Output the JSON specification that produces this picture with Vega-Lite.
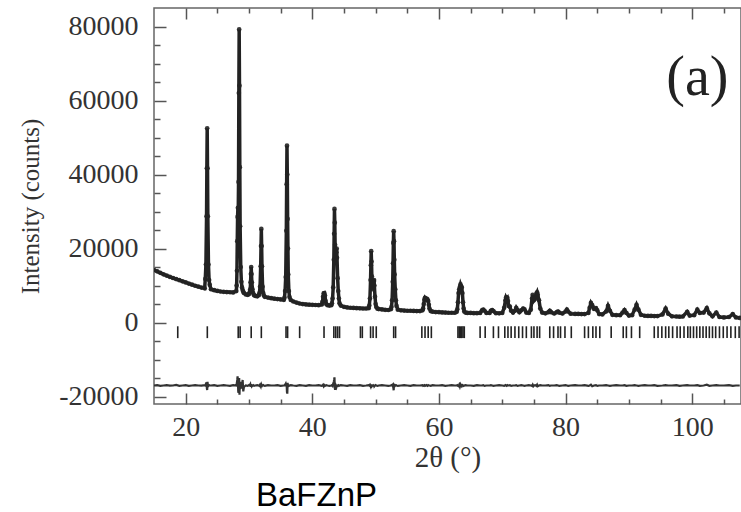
{
  "$schema": "https://vega.github.io/schema/vega-lite/v6.json",
  "width": 587,
  "height": 396,
  "autosize": "none",
  "padding": {"left": 154, "top": 8, "right": 0, "bottom": 108},
  "background": "white",
  "config": {
    "view": {"stroke": "#666", "strokeWidth": 1.5},
    "axis": {"domain": false, "grid": false, "labelFont": "Liberation Serif", "labelFontSize": 28, "labelColor": "#333", "tickColor": "#555", "tickWidth": 1.5, "titleFont": "Liberation Serif", "titleFontWeight": "normal", "titleColor": "#333"}
  },
  "title": {"text": "BaFZnP", "orient": "bottom", "anchor": "start", "frame": "group", "dx": 102, "offset": 8, "font": "Liberation Sans", "fontSize": 33, "fontWeight": "normal", "color": "#000"},
  "datasets": {
    "xrd": [
      {"t":15.0,"o":14200,"d":-17000},{"t":15.5,"o":13850,"d":-16900},{"t":16.0,"o":13450,"d":-17100},{"t":16.5,"o":13050,"d":-17000},
      {"t":17.0,"o":12700,"d":-16900},{"t":17.5,"o":12350,"d":-17050},{"t":18.0,"o":12050,"d":-17000},{"t":18.5,"o":11750,"d":-16850},
      {"t":19.0,"o":11450,"d":-17100},{"t":19.5,"o":11150,"d":-17000},{"t":20.0,"o":10850,"d":-16900},{"t":20.5,"o":10550,"d":-17100},
      {"t":21.0,"o":10250,"d":-17000},{"t":21.5,"o":9950,"d":-16900},{"t":22.0,"o":9700,"d":-17000},{"t":22.5,"o":9450,"d":-17050},
      {"t":23.0,"o":9250,"d":-16900},{"t":23.1,"o":11800,"d":-17000},{"t":23.2,"o":15700,"d":-16600},{"t":23.3,"o":28700,"d":-16200},
      {"t":23.35,"o":41700,"d":-17800},{"t":23.4,"o":52500,"d":-18200},{"t":23.45,"o":41700,"d":-16000},{"t":23.5,"o":28700,"d":-17300},
      {"t":23.6,"o":15700,"d":-17100},{"t":23.7,"o":11500,"d":-16900},{"t":23.8,"o":10200,"d":-17000},{"t":24.0,"o":9000,"d":-17000},
      {"t":24.5,"o":8750,"d":-16900},{"t":25.0,"o":8550,"d":-17100},{"t":25.5,"o":8400,"d":-17000},{"t":26.0,"o":8300,"d":-16900},
      {"t":26.5,"o":8250,"d":-17000},{"t":27.0,"o":8200,"d":-17100},{"t":27.5,"o":8150,"d":-16900},{"t":28.0,"o":8500,"d":-17000},
      {"t":28.05,"o":10000,"d":-16700},{"t":28.1,"o":14000,"d":-16200},{"t":28.15,"o":22000,"d":-15500},{"t":28.2,"o":28500,"d":-14500},
      {"t":28.25,"o":31000,"d":-15800},{"t":28.3,"o":29000,"d":-18500},{"t":28.35,"o":38000,"d":-19000},{"t":28.4,"o":62000,"d":-17500},
      {"t":28.45,"o":79200,"d":-15000},{"t":28.5,"o":64000,"d":-19500},{"t":28.55,"o":42000,"d":-16500},{"t":28.6,"o":26000,"d":-18000},
      {"t":28.7,"o":15000,"d":-16000},{"t":28.8,"o":11000,"d":-17800},{"t":28.9,"o":9500,"d":-16900},{"t":29.0,"o":8800,"d":-15500},
      {"t":29.1,"o":8300,"d":-18600},{"t":29.2,"o":8000,"d":-17400},{"t":29.5,"o":7600,"d":-17000},{"t":29.8,"o":7500,"d":-17100},
      {"t":30.0,"o":7700,"d":-16900},{"t":30.1,"o":8200,"d":-17000},{"t":30.2,"o":9000,"d":-16700},{"t":30.25,"o":10900,"d":-17300},
      {"t":30.3,"o":13100,"d":-16600},{"t":30.35,"o":15000,"d":-17400},{"t":30.4,"o":13100,"d":-16800},{"t":30.45,"o":10900,"d":-17200},
      {"t":30.55,"o":9000,"d":-17000},{"t":30.65,"o":8000,"d":-16900},{"t":30.8,"o":7400,"d":-17100},{"t":31.0,"o":7200,"d":-17000},
      {"t":31.3,"o":7100,"d":-16900},{"t":31.55,"o":7400,"d":-17000},{"t":31.65,"o":8000,"d":-17100},{"t":31.75,"o":9700,"d":-16800},
      {"t":31.85,"o":15200,"d":-17200},{"t":31.9,"o":20700,"d":-16700},{"t":31.95,"o":25300,"d":-17500},{"t":32.0,"o":20700,"d":-16900},
      {"t":32.05,"o":15200,"d":-17100},{"t":32.15,"o":9700,"d":-17000},{"t":32.25,"o":8000,"d":-16900},{"t":32.35,"o":7300,"d":-17000},
      {"t":32.5,"o":6950,"d":-17100},{"t":33.0,"o":6750,"d":-16900},{"t":33.5,"o":6600,"d":-17000},{"t":34.0,"o":6450,"d":-17000},
      {"t":34.5,"o":6350,"d":-16900},{"t":35.0,"o":6250,"d":-17100},{"t":35.5,"o":6150,"d":-17000},{"t":35.6,"o":6700,"d":-17000},
      {"t":35.7,"o":8500,"d":-16800},{"t":35.8,"o":12300,"d":-16500},{"t":35.9,"o":24800,"d":-17200},{"t":35.95,"o":37400,"d":-16800},
      {"t":36.0,"o":47800,"d":-18800},{"t":36.05,"o":40000,"d":-19200},{"t":36.1,"o":28000,"d":-16300},{"t":36.15,"o":20000,"d":-17400},
      {"t":36.2,"o":13000,"d":-16900},{"t":36.3,"o":8500,"d":-17100},{"t":36.4,"o":6900,"d":-17000},{"t":36.6,"o":6100,"d":-16900},
      {"t":37.0,"o":5700,"d":-17000},{"t":37.5,"o":5400,"d":-17100},{"t":38.0,"o":5150,"d":-16900},{"t":38.5,"o":5000,"d":-17000},
      {"t":39.0,"o":4900,"d":-17100},{"t":39.5,"o":4850,"d":-16900},{"t":40.0,"o":4800,"d":-17000},{"t":40.5,"o":4750,"d":-17000},
      {"t":41.0,"o":4700,"d":-16900},{"t":41.5,"o":4900,"d":-17100},{"t":41.6,"o":5600,"d":-17000},{"t":41.7,"o":7000,"d":-16800},
      {"t":41.8,"o":7900,"d":-17200},{"t":41.9,"o":8000,"d":-16900},{"t":42.0,"o":7300,"d":-17100},{"t":42.1,"o":5800,"d":-17000},
      {"t":42.2,"o":5000,"d":-16900},{"t":42.4,"o":4700,"d":-17000},{"t":42.7,"o":4600,"d":-17100},{"t":43.0,"o":4700,"d":-17000},
      {"t":43.1,"o":5200,"d":-16900},{"t":43.2,"o":6500,"d":-17100},{"t":43.3,"o":9500,"d":-16500},{"t":43.4,"o":17000,"d":-16000},
      {"t":43.45,"o":24000,"d":-15500},{"t":43.5,"o":30700,"d":-14800},{"t":43.55,"o":27000,"d":-17500},{"t":43.6,"o":21000,"d":-18200},
      {"t":43.7,"o":17000,"d":-16900},{"t":43.8,"o":19000,"d":-17300},{"t":43.85,"o":20000,"d":-16800},{"t":43.9,"o":17500,"d":-17200},
      {"t":44.0,"o":12000,"d":-17000},{"t":44.1,"o":8500,"d":-16900},{"t":44.2,"o":6500,"d":-17100},{"t":44.3,"o":5200,"d":-17000},
      {"t":44.5,"o":4600,"d":-16900},{"t":45.0,"o":4250,"d":-17000},{"t":45.5,"o":4100,"d":-17100},{"t":46.0,"o":4000,"d":-16900},
      {"t":46.5,"o":3950,"d":-17000},{"t":47.0,"o":3900,"d":-17000},{"t":47.5,"o":3850,"d":-16900},{"t":48.0,"o":3800,"d":-17100},
      {"t":48.5,"o":3800,"d":-17000},{"t":48.9,"o":3900,"d":-16900},{"t":49.0,"o":4600,"d":-17000},{"t":49.1,"o":6500,"d":-16800},
      {"t":49.2,"o":11500,"d":-17200},{"t":49.25,"o":15500,"d":-16700},{"t":49.3,"o":19300,"d":-17600},{"t":49.35,"o":16500,"d":-16900},
      {"t":49.4,"o":12500,"d":-17200},{"t":49.5,"o":9000,"d":-17000},{"t":49.6,"o":9500,"d":-16900},{"t":49.7,"o":11200,"d":-17100},
      {"t":49.75,"o":11500,"d":-16800},{"t":49.8,"o":10000,"d":-17200},{"t":49.9,"o":7000,"d":-17000},{"t":50.0,"o":5000,"d":-16900},
      {"t":50.1,"o":4200,"d":-17000},{"t":50.3,"o":3750,"d":-17100},{"t":50.5,"o":3650,"d":-17000},{"t":51.0,"o":3550,"d":-16900},
      {"t":51.5,"o":3450,"d":-17000},{"t":52.0,"o":3400,"d":-17100},{"t":52.4,"o":3600,"d":-17000},{"t":52.5,"o":4200,"d":-16900},
      {"t":52.6,"o":6000,"d":-17000},{"t":52.7,"o":11000,"d":-16800},{"t":52.75,"o":16000,"d":-17300},{"t":52.8,"o":21500,"d":-17600},
      {"t":52.85,"o":24700,"d":-18300},{"t":52.9,"o":22000,"d":-16800},{"t":52.95,"o":17000,"d":-16900},{"t":53.0,"o":13000,"d":-17200},
      {"t":53.1,"o":9000,"d":-17000},{"t":53.2,"o":6000,"d":-16900},{"t":53.3,"o":4500,"d":-17000},{"t":53.5,"o":3500,"d":-17100},
      {"t":54.0,"o":3300,"d":-17000},{"t":54.5,"o":3250,"d":-16900},{"t":55.0,"o":3200,"d":-17000},{"t":55.5,"o":3200,"d":-17100},
      {"t":56.0,"o":3150,"d":-16900},{"t":56.5,"o":3100,"d":-17000},{"t":57.0,"o":3100,"d":-17000},{"t":57.4,"o":3300,"d":-16900},
      {"t":57.5,"o":3800,"d":-17100},{"t":57.6,"o":5000,"d":-17000},{"t":57.7,"o":6200,"d":-16900},{"t":57.8,"o":6700,"d":-17100},
      {"t":57.9,"o":6500,"d":-17000},{"t":58.0,"o":6300,"d":-16900},{"t":58.1,"o":6400,"d":-17000},{"t":58.2,"o":6200,"d":-17100},
      {"t":58.3,"o":5800,"d":-16900},{"t":58.4,"o":4800,"d":-17000},{"t":58.5,"o":3800,"d":-17000},{"t":58.7,"o":3100,"d":-17100},
      {"t":59.0,"o":2950,"d":-16900},{"t":59.5,"o":2850,"d":-17000},{"t":60.0,"o":2800,"d":-17000},{"t":60.5,"o":2750,"d":-16900},
      {"t":61.0,"o":2700,"d":-17100},{"t":61.5,"o":2650,"d":-17000},{"t":62.0,"o":2650,"d":-16900},{"t":62.5,"o":2650,"d":-17000},
      {"t":62.8,"o":2900,"d":-17000},{"t":62.9,"o":3600,"d":-16900},{"t":63.0,"o":5500,"d":-17100},{"t":63.1,"o":8000,"d":-17200},
      {"t":63.2,"o":9000,"d":-16800},{"t":63.3,"o":9600,"d":-17300},{"t":63.4,"o":10300,"d":-16700},{"t":63.5,"o":9800,"d":-17000},
      {"t":63.6,"o":9500,"d":-17200},{"t":63.7,"o":8000,"d":-16900},{"t":63.8,"o":5500,"d":-17000},{"t":63.9,"o":3800,"d":-17100},
      {"t":64.0,"o":3000,"d":-17000},{"t":64.2,"o":2700,"d":-16900},{"t":64.5,"o":2600,"d":-17000},{"t":65.0,"o":2600,"d":-17000},
      {"t":65.5,"o":2550,"d":-17100},{"t":66.0,"o":2550,"d":-16900},{"t":66.5,"o":2600,"d":-17000},{"t":66.8,"o":3300,"d":-17000},
      {"t":67.0,"o":3500,"d":-16900},{"t":67.2,"o":3200,"d":-17100},{"t":67.5,"o":2600,"d":-17000},{"t":68.0,"o":2600,"d":-17000},
      {"t":68.2,"o":3200,"d":-16900},{"t":68.4,"o":3400,"d":-17000},{"t":68.6,"o":3100,"d":-17100},{"t":69.0,"o":2550,"d":-17000},
      {"t":69.5,"o":2500,"d":-16900},{"t":70.0,"o":2600,"d":-17000},{"t":70.3,"o":4000,"d":-17100},{"t":70.5,"o":6000,"d":-16900},
      {"t":70.6,"o":6800,"d":-17000},{"t":70.7,"o":6500,"d":-17100},{"t":70.8,"o":6700,"d":-16900},{"t":70.9,"o":5800,"d":-17000},
      {"t":71.0,"o":4500,"d":-17000},{"t":71.2,"o":4300,"d":-16900},{"t":71.4,"o":3200,"d":-17100},{"t":71.7,"o":2700,"d":-17000},
      {"t":72.0,"o":3200,"d":-17000},{"t":72.2,"o":4000,"d":-16900},{"t":72.4,"o":3400,"d":-17100},{"t":72.7,"o":2800,"d":-17000},
      {"t":73.0,"o":3300,"d":-16900},{"t":73.3,"o":3800,"d":-17000},{"t":73.5,"o":3600,"d":-17100},{"t":73.8,"o":2700,"d":-17000},
      {"t":74.2,"o":2600,"d":-16900},{"t":74.5,"o":3500,"d":-17000},{"t":74.7,"o":6500,"d":-17100},{"t":74.8,"o":7500,"d":-16800},
      {"t":74.9,"o":6800,"d":-17200},{"t":75.0,"o":6000,"d":-17000},{"t":75.2,"o":6500,"d":-16900},{"t":75.4,"o":7800,"d":-17100},
      {"t":75.5,"o":8200,"d":-16800},{"t":75.6,"o":7500,"d":-17200},{"t":75.8,"o":6000,"d":-17000},{"t":76.0,"o":3800,"d":-16900},
      {"t":76.3,"o":2700,"d":-17000},{"t":76.8,"o":2500,"d":-17000},{"t":77.3,"o":2800,"d":-16900},{"t":77.5,"o":3200,"d":-17100},
      {"t":77.7,"o":2800,"d":-17000},{"t":78.2,"o":2450,"d":-17000},{"t":78.6,"o":2800,"d":-16900},{"t":78.8,"o":3000,"d":-17000},
      {"t":79.0,"o":2700,"d":-17100},{"t":79.5,"o":2450,"d":-17000},{"t":80.0,"o":3000,"d":-16900},{"t":80.2,"o":3500,"d":-17000},
      {"t":80.4,"o":3000,"d":-17100},{"t":80.8,"o":2400,"d":-17000},{"t":81.5,"o":2350,"d":-16900},{"t":82.0,"o":2350,"d":-17000},
      {"t":82.5,"o":2300,"d":-17000},{"t":83.0,"o":2300,"d":-16900},{"t":83.6,"o":2600,"d":-17100},{"t":83.8,"o":4000,"d":-17000},
      {"t":84.0,"o":5300,"d":-16800},{"t":84.2,"o":4700,"d":-17200},{"t":84.5,"o":3700,"d":-17000},{"t":84.8,"o":3900,"d":-16900},
      {"t":85.0,"o":3300,"d":-17100},{"t":85.3,"o":2300,"d":-17000},{"t":85.8,"o":2200,"d":-17000},{"t":86.4,"o":3000,"d":-16900},
      {"t":86.7,"o":4500,"d":-17000},{"t":87.0,"o":3200,"d":-17100},{"t":87.4,"o":2100,"d":-17000},{"t":88.0,"o":2000,"d":-16900},
      {"t":88.6,"o":2000,"d":-17000},{"t":89.0,"o":2700,"d":-17000},{"t":89.3,"o":3400,"d":-16900},{"t":89.6,"o":2600,"d":-17100},
      {"t":90.0,"o":1900,"d":-17000},{"t":90.5,"o":2000,"d":-17000},{"t":90.9,"o":3500,"d":-16900},{"t":91.2,"o":4800,"d":-17000},
      {"t":91.5,"o":3500,"d":-17100},{"t":91.9,"o":2100,"d":-17000},{"t":92.5,"o":1850,"d":-16900},{"t":93.0,"o":1800,"d":-17000},
      {"t":93.5,"o":1800,"d":-17000},{"t":94.0,"o":1750,"d":-16900},{"t":94.5,"o":1750,"d":-17100},{"t":95.3,"o":2200,"d":-17000},
      {"t":95.8,"o":3800,"d":-16900},{"t":96.2,"o":2400,"d":-17000},{"t":96.8,"o":1700,"d":-17000},{"t":97.5,"o":1650,"d":-16900},
      {"t":98.0,"o":1600,"d":-17100},{"t":98.5,"o":1650,"d":-17000},{"t":99.2,"o":2900,"d":-16900},{"t":99.6,"o":1900,"d":-17000},
      {"t":100.3,"o":2000,"d":-17000},{"t":100.8,"o":3500,"d":-16900},{"t":101.2,"o":2600,"d":-17100},{"t":101.8,"o":2700,"d":-17000},
      {"t":102.3,"o":3900,"d":-16800},{"t":102.7,"o":2500,"d":-17100},{"t":103.2,"o":1700,"d":-17000},{"t":103.8,"o":2700,"d":-16900},
      {"t":104.3,"o":1500,"d":-17000},{"t":105.0,"o":1400,"d":-17000},{"t":105.8,"o":1500,"d":-16900},{"t":106.4,"o":2300,"d":-17100},
      {"t":106.9,"o":1400,"d":-17000},{"t":107.5,"o":1250,"d":-17000}
    ],
    "hkl": [
      {"t":18.75},{"t":23.42},{"t":28.3},{"t":28.6},{"t":30.35},{"t":31.95},{"t":35.85},{"t":36.1},{"t":38.0},{"t":41.85},
      {"t":43.4},{"t":43.7},{"t":44.0},{"t":44.3},{"t":47.6},{"t":47.9},{"t":49.2},{"t":49.6},{"t":50.1},{"t":52.85},{"t":53.15},
      {"t":57.3},{"t":57.8},{"t":58.3},{"t":58.8},{"t":63.0},{"t":63.2},{"t":63.4},{"t":63.6},{"t":63.8},{"t":64.0},
      {"t":66.5},{"t":67.3},{"t":68.6},{"t":69.4},{"t":70.4},{"t":70.9},{"t":71.4},{"t":72.0},{"t":72.6},{"t":73.2},{"t":73.8},
      {"t":74.6},{"t":75.0},{"t":75.5},{"t":75.9},{"t":77.5},{"t":78.1},{"t":78.8},{"t":79.2},{"t":79.9},{"t":80.9},
      {"t":83.0},{"t":83.6},{"t":84.3},{"t":84.8},{"t":85.4},{"t":87.2},{"t":89.1},{"t":89.6},{"t":90.4},{"t":91.7},
      {"t":94.0},{"t":94.6},{"t":95.2},{"t":95.8},{"t":96.3},{"t":96.9},{"t":97.6},{"t":98.1},{"t":98.7},{"t":99.3},{"t":99.7},
      {"t":100.2},{"t":100.7},{"t":101.2},{"t":101.7},{"t":102.2},{"t":102.7},{"t":103.2},{"t":103.7},{"t":104.3},{"t":104.9},
      {"t":105.5},{"t":106.1},{"t":106.8},{"t":107.4}
    ],
    "lab": [{"t":100.8,"o":66000,"label":"(a)"}]
  },
  "resolve": {"axis": {"x": "independent", "y": "independent"}},
  "layer": [
    {
      "data": {"name": "xrd"},
      "mark": {"type": "point", "filled": true, "size": 22, "color": "#222", "opacity": 0.9, "clip": true},
      "encoding": {
        "x": {"field": "t", "type": "quantitative", "scale": {"domain": [15, 107.7], "nice": false, "zero": false},
          "axis": {"orient": "bottom", "values": [20, 40, 60, 80, 100], "offset": -11, "tickSize": 11, "labelPadding": 9, "title": "2θ (°)", "titleFontSize": 29, "titlePadding": 2}},
        "y": {"field": "o", "type": "quantitative", "scale": {"domain": [-22000, 85000], "nice": false, "zero": false},
          "axis": {"orient": "left", "values": [-20000, 0, 20000, 40000, 60000, 80000], "offset": -12, "tickSize": 12, "labelPadding": 16, "labelExpr": "'' + datum.value", "title": "Intensity (counts)", "titleFontSize": 25, "titlePadding": 15}}
      }
    },
    {
      "data": {"name": "xrd"},
      "mark": {"type": "line", "color": "#222", "strokeWidth": 3.5, "clip": true},
      "encoding": {
        "x": {"field": "t", "type": "quantitative",
          "axis": {"orient": "bottom", "values": [25, 30, 35, 45, 50, 55, 65, 70, 75, 85, 90, 95, 105], "offset": -5, "tickSize": 5, "labels": false, "title": null}},
        "y": {"field": "o", "type": "quantitative",
          "axis": {"orient": "left", "values": [-15000, -10000, -5000, 5000, 10000, 15000, 25000, 30000, 35000, 45000, 50000, 55000, 65000, 70000, 75000], "offset": -6, "tickSize": 6, "labels": false, "title": null}}
      }
    },
    {
      "data": {"name": "xrd"},
      "mark": {"type": "line", "color": "#333", "strokeWidth": 2.2, "clip": true},
      "encoding": {
        "x": {"field": "t", "type": "quantitative",
          "axis": {"orient": "top", "values": [20, 40, 60, 80, 100], "offset": -11, "tickSize": 11, "labels": false, "title": null}},
        "y": {"field": "d", "type": "quantitative", "axis": null}
      }
    },
    {
      "data": {"name": "hkl"},
      "mark": {"type": "rule", "color": "#222", "strokeWidth": 1.6, "clip": true},
      "encoding": {
        "x": {"field": "t", "type": "quantitative",
          "axis": {"orient": "top", "values": [25, 30, 35, 45, 50, 55, 65, 70, 75, 85, 90, 95, 105], "offset": -5, "tickSize": 5, "labels": false, "title": null}},
        "y": {"datum": -1000, "type": "quantitative", "axis": null},
        "y2": {"datum": -4200}
      }
    },
    {
      "data": {"name": "lab"},
      "mark": {"type": "text", "font": "Liberation Serif", "fontSize": 56, "color": "#222", "align": "center", "baseline": "middle"},
      "encoding": {
        "x": {"field": "t", "type": "quantitative", "axis": null},
        "y": {"field": "o", "type": "quantitative", "axis": null},
        "text": {"field": "label"}
      }
    }
  ]
}
